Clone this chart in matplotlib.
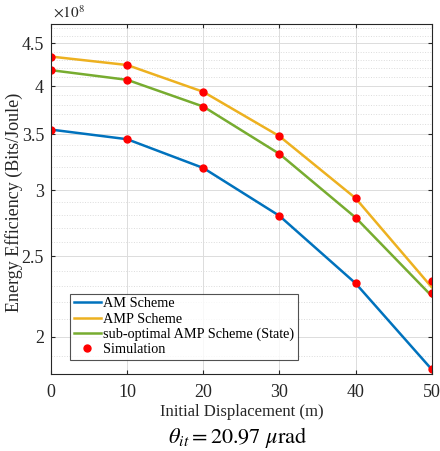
import matplotlib
matplotlib.use('Agg')
import matplotlib.pyplot as plt
from matplotlib.ticker import FixedLocator, NullFormatter

plt.rcParams['font.family'] = ['Liberation Serif', 'DejaVu Serif']
plt.rcParams['mathtext.fontset'] = 'stix'

# data, in units of 1e8 Bits/Joule
displacement = [0, 10, 20, 30, 40, 50]
am = [3.547, 3.454, 3.19, 2.795, 2.32, 1.829]
amp = [4.34, 4.24, 3.937, 3.483, 2.935, 2.295]
amp_sub = [4.18, 4.07, 3.78, 3.317, 2.782, 2.24]
sim_am = [3.547, 3.454, 3.19, 2.795, 2.32, 1.829]
sim_amp = [4.34, 4.24, 3.937, 3.483, 2.935, 2.337]
sim_sub = [4.18, 4.07, 3.78, 3.317, 2.782, 2.261]

yticks = [2, 2.5, 3, 3.5, 4, 4.5]
yticklabels = ['2', '2.5', '3', '3.5', '4', '4.5']

fig = plt.figure(figsize=(4.4, 4.51), dpi=100)
ax = fig.add_axes([0.116, 0.171, 0.865, 0.776])

ax.plot(displacement, am, color='#0072BD', lw=1.8, label='AM Scheme')
ax.plot(displacement, amp, color='#EDB120', lw=1.8, label='AMP Scheme')
ax.plot(displacement, amp_sub, color='#77AC30', lw=1.8, label='sub-optimal AMP Scheme (State)')
ax.plot(displacement, sim_am, 'o', color='red', ms=5, label='Simulation')
ax.plot(displacement, sim_amp, 'o', color='red', ms=5)
ax.plot(displacement, sim_sub, 'o', color='red', ms=5)

ax.set_yscale('log')
ax.set_ylim(1.806, 4.75)
ax.set_xlim(0, 50)
ax.set_xticks(displacement)
ax.yaxis.set_major_locator(FixedLocator(yticks))
ax.set_yticklabels(yticklabels)
minor = [x / 10 for x in range(18, 48)]
ax.yaxis.set_minor_locator(FixedLocator(minor))
ax.yaxis.set_minor_formatter(NullFormatter())

ax.grid(True, which='major', color='#dcdcdc', lw=0.7)
ax.grid(True, which='minor', axis='y', color='#dcdcdc', lw=0.7, ls=':')
ax.set_axisbelow(True)
ax.tick_params(which='both', direction='in', top=True, right=True, labelsize=13,
               colors='#262626', length=3, pad=5)
ax.tick_params(axis='x', pad=7)
ax.tick_params(which='minor', length=0)
for s in ax.spines.values():
    s.set_color('#262626')
    s.set_linewidth(0.8)

ax.set_xlabel('Initial Displacement (m)', fontsize=12, color='#262626')
ax.xaxis.set_label_coords(0.5, -0.085)
ax.set_ylabel('Energy Efficiency (Bits/Joule)', fontsize=13, color='#262626')
ax.yaxis.set_label_coords(-0.074, 0.49)
ax.text(0.005, 1.008, r'$\times10^{8}$', transform=ax.transAxes, fontsize=11,
        ha='left', va='bottom', color='#262626')

leg = ax.legend(loc='lower left', bbox_to_anchor=(0.05, 0.04), fontsize=10.3,
                frameon=True, fancybox=False, edgecolor='#262626',
                handlelength=1.9, handletextpad=0.15, borderpad=0.25,
                labelspacing=0.15, borderaxespad=0)
leg.get_frame().set_linewidth(0.8)

fig.text(0.54, 0.031, r'$\theta_{it} = 20.97\ \mu\mathrm{rad}$', fontsize=16,
         ha='center', va='center')

fig.savefig('out.png', dpi=100)
